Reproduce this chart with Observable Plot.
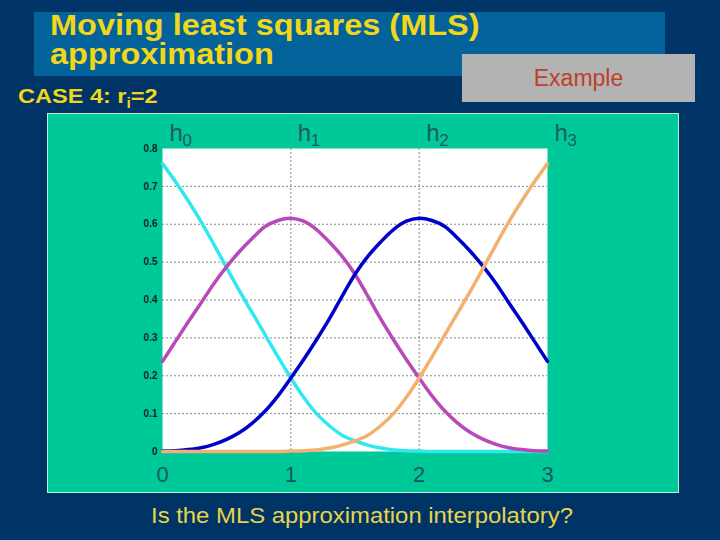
<!DOCTYPE html>
<html>
<head>
<meta charset="utf-8">
<script src="https://cdn.jsdelivr.net/npm/d3@7"></script>
<script src="https://cdn.jsdelivr.net/npm/@observablehq/plot@0.6"></script>
<style>
  html, body { margin:0; padding:0; }
  body { width:720px; height:540px; background:#003366; position:relative; overflow:hidden;
         font-family:"Liberation Sans", Arial, sans-serif; }
  .abs { position:absolute; white-space:nowrap; }
  .wide { transform-origin:left top; }
</style>
</head>
<body>
<div class="abs" style="left:34px;top:12px;width:631px;height:64px;background:#03629a"></div>
<div class="abs wide" style="left:50px;top:10.5px;font-size:29px;font-weight:bold;line-height:29px;color:#f2d61a;transform:scaleX(1.12)">Moving least squares (MLS)<br>approximation</div>
<div class="abs" style="left:462px;top:54px;width:233px;height:48px;background:#b3b3b3;text-align:center;font-size:23px;line-height:48px;color:#c0402a">Example</div>
<div class="abs wide" style="left:18px;top:85px;font-size:21px;font-weight:bold;line-height:21px;color:#f2d61a;transform:scaleX(1.12)">CASE 4: r<span style="font-size:14px;position:relative;top:5px">i</span>=2</div>
<div id="chart" class="abs" style="left:48px;top:114px;width:630px;height:378px;background:#00c999;outline:1px solid #bfeedd"></div>
<div class="abs wide" style="left:151px;top:505px;font-size:22px;line-height:22px;color:#e8d44a;transform:scaleX(1.085)">Is the MLS approximation interpolatory?</div>
<script>
const xs = [0,0.1,0.2,0.3,0.4,0.5,0.6,0.7,0.8,0.9,1.0,1.1,1.2,1.3,1.4,1.5,1.6,1.7,1.8,1.9,2.0,2.1,2.2,2.3,2.4,2.5,2.6,2.7,2.8,2.9,3.0];
const h0 = [0.760,0.713,0.662,0.607,0.547,0.485,0.424,0.366,0.308,0.250,0.194,0.143,0.100,0.068,0.043,0.028,0.017,0.009,0.004,0.002,0.001,0,0,0,0,0,0,0,0,0,0];
const h1 = [0.238,0.290,0.342,0.392,0.443,0.488,0.528,0.563,0.594,0.610,0.616,0.608,0.586,0.553,0.515,0.468,0.410,0.350,0.295,0.243,0.194,0.147,0.107,0.075,0.050,0.032,0.019,0.010,0.005,0.002,0.001];
const h2 = [0.001,0.002,0.005,0.010,0.019,0.032,0.050,0.075,0.107,0.147,0.194,0.243,0.295,0.350,0.410,0.468,0.515,0.553,0.586,0.608,0.616,0.610,0.594,0.563,0.528,0.488,0.443,0.392,0.342,0.290,0.238];
const h3 = [0,0,0,0,0,0,0,0,0,0,0.001,0.002,0.004,0.009,0.017,0.028,0.043,0.068,0.100,0.143,0.194,0.250,0.308,0.366,0.424,0.485,0.547,0.607,0.662,0.713,0.760];
const seriesNames = ["h0","h1","h2","h3"];
const seriesColors = ["#30e8f0","#b849b8","#0000c8","#f4b070"];
const labelSubs = ["0","1","2","3"];
const labelX = [0,1,2,3];
const xTicks = [0,1,2,3];
const xTickLabels = ["0","1","2","3"];
const yTicks = [0,0.1,0.2,0.3,0.4,0.5,0.6,0.7,0.8];
const yTickLabels = ["0","0.1","0.2","0.3","0.4","0.5","0.6","0.7","0.8"];
const gridX = [1,2];
const gridY = [0.1,0.2,0.3,0.4,0.5,0.6,0.7];

const all = [h0,h1,h2,h3];
const lineMarks = all.map((ys, k) =>
  Plot.line(xs.map((x, i) => ({x, y: ys[i]})), {x:"x", y:"y", stroke: seriesColors[k], strokeWidth:3.5, curve:"catmull-rom"})
);

const chart = Plot.plot({
  width:630, height:378,
  marginLeft:114, marginRight:131, marginTop:34, marginBottom:41,
  x:{domain:[0,3], label:null}, y:{domain:[0,0.8], label:null},
  style:{background:"transparent", fontFamily:"'Liberation Sans', Arial, sans-serif", overflow:"visible"},
  marks:[
    Plot.frame({fill:"white", stroke:null}),
    Plot.ruleX(gridX, {stroke:"#888", strokeDasharray:"2,2", strokeWidth:1}),
    Plot.ruleY(gridY, {stroke:"#888", strokeDasharray:"2,2", strokeWidth:1}),
    ...lineMarks,
    Plot.axisY({ticks:yTicks, tickFormat: d => yTickLabels[yTicks.indexOf(d)], tickSize:0, tickPadding:5, label:null,
                fontSize:10, fontWeight:"bold", color:"#14261c", fill:"#14261c"}),
    Plot.axisX({ticks:xTicks, tickFormat: d => xTickLabels[xTicks.indexOf(d)], tickSize:0, tickPadding:15, label:null,
                fontSize:22, color:"#1d5466", fill:"#1d5466"}),
    Plot.text(labelX, {x: d => d, y: () => 0.8, text: () => "h", textAnchor:"start", lineAnchor:"bottom",
                dx:7, dy:-8, fontSize:24, fill:"#1d5a66"}),
    Plot.text(labelX, {x: d => d, y: () => 0.8, text: (d, i) => labelSubs[i], textAnchor:"start", lineAnchor:"bottom",
                dx:20, dy:-3, fontSize:17, fill:"#1d5a66"})
  ]
});
document.getElementById("chart").appendChild(chart);
</script>
</body>
</html>
